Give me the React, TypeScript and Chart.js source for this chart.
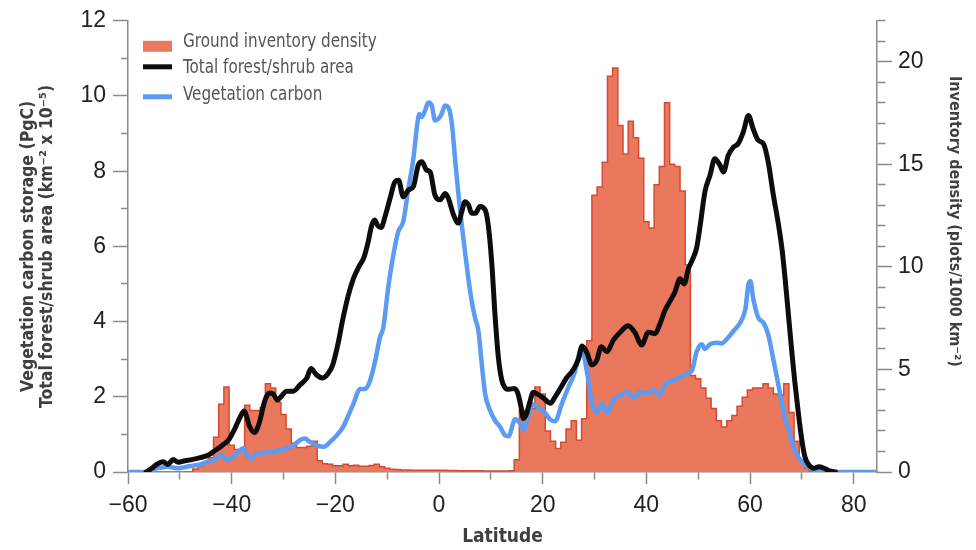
import React, { useEffect, useRef } from 'react';
import { Chart, registerables } from 'chart.js';

Chart.register(...registerables);

// ---- Ground inventory density (plots / 1000 km^2), 1-degree bins (bin centres) ----
const histLat = [
  -48, -47, -46, -45, -44, -43, -42, -41, -40, -39, -38, -37, -36, -35, -34, -33, -32, -31, -30, -29,
  -28, -27, -26, -25, -24, -23, -22, -21, -20, -19, -18, -17, -16, -15, -14, -13, -12, -11, -10, -9,
  -8, -7, -6, -5, -4, -3, -2, -1, 0, 1, 2, 3, 4, 5, 6, 7, 8, 9, 10, 11,
  12, 13, 14, 15, 16, 17, 18, 19, 20, 21, 22, 23, 24, 25, 26, 27, 28, 29, 30, 31,
  32, 33, 34, 35, 36, 37, 38, 39, 40, 41, 42, 43, 44, 45, 46, 47, 48, 49, 50, 51,
  52, 53, 54, 55, 56, 57, 58, 59, 60, 61, 62, 63, 64, 65, 66, 67, 68, 69, 70, 71, 72,
];
const histVal = [
  0, 0.15, 0.3, 0.45, 0.7, 1.7, 3.3, 4.15, 1.3, 1.1, 1.1, 3.25, 3.0, 3.0, 3.15, 4.3, 4.1, 3.4, 2.8, 2.1,
  1.4, 1.2, 1.2, 1.25, 1.5, 0.55, 0.4, 0.38, 0.3, 0.3, 0.38, 0.3, 0.33, 0.28, 0.28, 0.32, 0.38, 0.25, 0.18, 0.14,
  0.12, 0.1, 0.1, 0.09, 0.09, 0.08, 0.08, 0.08, 0.08, 0.08, 0.07, 0.07, 0.06, 0.06, 0.06, 0.06, 0.06, 0.05, 0.05, 0.05,
  0.05, 0.05, 0.06, 0.6, 3.0, 3.0, 3.1, 4.15, 3.8, 2.0, 1.5, 1.15, 1.45, 2.1, 2.5, 1.55, 2.6, 6.4, 13.5, 13.9,
  15.1, 19.3, 19.7, 16.9, 15.5, 17.1, 16.3, 15.3, 12.2, 11.9, 14.0, 14.9, 18.0, 15.0, 14.9, 13.7, 10.1, 4.7, 4.55, 4.1,
  3.6, 3.1, 2.5, 2.2, 2.5, 2.75, 3.2, 3.65, 4.0, 4.1, 4.1, 4.3, 4.1, 3.8, 3.75, 4.3, 2.9, 1.5, 0.6, 0.2, 0,
];

// ---- Total forest/shrub area (km^-2 x 10^-5) ----
const forestLat = [
  -56.5, -55.4, -54.5, -53.2, -52.3, -51.3, -50.3, -49, -47.7, -46.1, -44.5, -43.2, -41.9, -40.6, -39.4, -38.4,
  -37.6, -36.5, -35.6, -34.7, -33.6, -32.7, -32, -31.2, -30.3, -29.4, -28.1, -26.8, -25.5, -24.7, -23.6, -22.5,
  -21.5, -20.5, -19.5, -18.5, -17.5, -16.5, -15.5, -14.5, -13.7, -13, -12.4, -11.8, -11.2, -10.3, -9.4, -8.5,
  -7.8, -6.9, -5.9, -4.95, -4, -3.3, -2.4, -1.7, -0.8, 0.2, 1.2, 1.8, 2.8, 3.7, 4.4, 5, 5.7, 6.3, 7, 7.9, 8.9,
  9.5, 10.2, 10.8, 11.45, 12.1, 12.7, 13.5, 14.5, 15.2, 15.8, 16.3, 16.9, 17.5, 18.2, 19.2, 20.1, 21.5, 22.4,
  23.3, 24.6, 25.9, 26.9, 27.6, 28.5, 29.5, 30.4, 31.3, 32.4, 33.6, 34.9, 36.5, 37.8, 39.1, 40.4, 41.7, 42.6,
  43.6, 44.6, 45.5, 46.5, 47.3, 48.1, 48.8, 49.7, 50.4, 51.3, 52.3, 53.2, 54.2, 54.9, 55.8, 56.8, 57.7, 58.7,
  59.7, 60.6, 61.6, 62.6, 63.5, 64.5, 65.5, 66.2, 66.8, 67.4, 68, 68.6, 69.3, 70, 70.6, 71.3, 72.3, 73.3, 74.3,
  75.3, 76.5,
];
const forestVal = [
  0, 0.1, 0.2, 0.27, 0.2, 0.33, 0.26, 0.3, 0.33, 0.38, 0.45, 0.57, 0.7, 0.85, 1.15, 1.45,
  1.62, 1.2, 1.05, 1.3, 1.9, 2.1, 2.08, 1.92, 2.03, 2.15, 2.15, 2.32, 2.5, 2.75, 2.58, 2.5,
  2.6, 2.85, 3.4, 4.1, 4.7, 5.15, 5.45, 5.7, 6.1, 6.55, 6.7, 6.55, 6.5, 6.85, 7.3, 7.72,
  7.76, 7.32, 7.5, 7.59, 8.16, 8.25, 8.03, 7.98, 7.37, 7.24, 7.41, 7.28, 6.84, 6.62, 6.93, 7.19, 7.1, 6.88, 6.88, 7.06, 6.97,
  6.57, 5.52, 4.19, 3.05, 2.45, 2.25, 2.2, 2.22, 2.1, 1.75, 1.42, 1.55, 1.85, 2.12, 2.05, 1.97, 1.83, 2.0,
  2.2, 2.5, 2.72, 3.0, 3.35, 3.18, 2.85, 2.96, 3.33, 3.2, 3.5, 3.71, 3.89, 3.71, 3.38, 3.72, 3.68, 3.93,
  4.3, 4.55, 4.78, 5.14, 5.0, 5.4, 5.62, 5.96, 6.57, 7.45, 7.9, 8.33, 8.16, 7.98, 8.42, 8.64, 8.73, 9.04,
  9.48, 9.13, 8.82, 8.73, 8.25, 7.37, 6.57, 5.9, 5.1, 4.2, 3.3, 2.45, 1.6, 0.85, 0.4, 0.2, 0.1, 0.14, 0.1,
  0.03, 0,
];

// ---- Vegetation carbon storage (PgC) ----
const carbonLat = [
  -60, -57, -56, -55, -54.5, -53.5, -52.5, -51.5, -50.3, -48.7, -47.1, -46, -44.8, -43.8, -42.9, -41.9, -41,
  -39.7, -38.7, -37.8, -37.1, -36.1, -35.2, -34.2, -33.2, -32.2, -31.3, -30.3, -29.4, -28.1, -26.8, -25.9,
  -24.9, -23.6, -22.3, -21, -19.7, -18.5, -17.5, -16.5, -15.2, -14.3, -13.3, -12.3, -11.4, -10.75, -9.8, -8.8,
  -7.85, -6.9, -5.9, -4.95, -4.3, -3.8, -3.35, -2.7, -2.06, -1.4, -0.77, -0.13, 0.5, 1.16, 1.8, 2.45, 3.1,
  3.7, 4.4, 5.0, 5.65, 6.3, 6.95, 7.6, 8.25, 8.9, 9.85, 10.8, 11.8, 12.7, 13.4, 14.7, 15.6, 16.4, 17.2, 18.2,
  19.3, 20.3, 21.4, 22.4, 23.7, 24.8, 26.2, 27.5, 28.5, 29.5, 30.5, 31.4, 32.5, 33.6, 34.8, 36.4, 37.6, 38.8,
  40.2, 41.4, 42.5, 43.9, 45.2, 46.5, 47.8, 48.8, 49.7, 50.7, 51.3, 52.3, 53.6, 54.5, 55.5, 56.8, 58.1, 59.1,
  59.7, 60.1, 60.6, 61.6, 62.6, 63.5, 64.5, 65.5, 66.4, 67.4, 68.4, 69.3, 70.3, 71.6, 73, 75, 78, 84.5,
];
const carbonVal = [
  0, 0, 0.02, 0.06, 0.1, 0.12, 0.14, 0.12, 0.1, 0.14, 0.18, 0.2, 0.27, 0.3, 0.36, 0.45, 0.32,
  0.4, 0.54, 0.63, 0.45, 0.36, 0.49, 0.5, 0.54, 0.52, 0.58, 0.58, 0.63, 0.71, 0.85, 0.89,
  0.8, 0.71, 0.67, 0.8, 0.98, 1.2, 1.5, 1.82, 2.21, 2.21, 2.43, 2.96, 3.58, 3.84, 4.9, 5.78,
  6.4, 6.66, 7.54, 8.33, 9.13, 9.52, 9.44, 9.61, 9.83, 9.75, 9.35, 9.39, 9.52, 9.75, 9.7, 9.3, 8.33,
  7.45, 6.57, 5.87, 5.16, 4.55, 4.1, 3.75, 2.87, 2.08, 1.64, 1.37, 1.2, 0.98, 0.95, 1.4, 1.3, 1.12, 1.5, 1.8,
  1.68, 1.6, 1.4, 1.35, 1.82, 2.2, 2.65, 3.3, 2.7, 1.85, 1.58, 1.82, 1.57, 1.9, 2.03, 2.12, 1.98, 2.12,
  2.1, 2.18, 2.05, 2.37, 2.43, 2.52, 2.62, 2.7, 3.2, 3.4, 3.27, 3.4, 3.44, 3.42, 3.53, 3.75, 3.97, 4.33,
  4.99, 5.07, 4.63, 4.1, 3.97, 3.66, 3.0, 2.3, 1.64, 1.15, 0.67, 0.4, 0.23, 0.1, 0.04, 0.02, 0, 0,
];

const seriesLabels = ['Ground inventory density', 'Total forest/shrub area', 'Vegetation carbon'];

const AXIS = '#8a8a8a';
const TICK_TEXT = '#222222';
const TITLE_TEXT = '#3f3f3f';
const HIST_FILL = '#E9785C';
const HIST_EDGE = '#D64A34';
const FOREST = '#0d0d0d';
const CARBON = '#5B9BF4';
const NARROW = '"DejaVu Sans Condensed", "Liberation Sans Narrow", "Open Sans", sans-serif';
const SANS = '"Liberation Sans", Arial, Helvetica, sans-serif';

const toPoints = (xs: number[], ys: number[]) => xs.map((x, i) => ({ x, y: ys[i] }));

const insideLegend = {
  id: 'insideLegend',
  afterDraw(chart: any) {
    const { ctx, chartArea } = chart;
    const ds = chart.data.datasets;
    const x0 = chartArea.left + 15;
    const top = chartArea.top;
    ctx.save();
    ctx.fillStyle = ds[0].backgroundColor;
    ctx.fillRect(x0, top + 20, 29, 11);
    ctx.lineCap = 'butt';
    ctx.lineWidth = 5;
    ctx.strokeStyle = ds[1].borderColor;
    ctx.beginPath();
    ctx.moveTo(x0, top + 46);
    ctx.lineTo(x0 + 29, top + 46);
    ctx.stroke();
    ctx.strokeStyle = ds[2].borderColor;
    ctx.beginPath();
    ctx.moveTo(x0, top + 76);
    ctx.lineTo(x0 + 29, top + 76);
    ctx.stroke();
    ctx.fillStyle = '#555555';
    ctx.font = '19px ' + NARROW;
    ctx.textAlign = 'left';
    ctx.textBaseline = 'middle';
    const ys = [top + 21.5, top + 47, top + 74];
    const tx = x0 + 40;
    ds.forEach((d: any, i: number) => {
      ctx.save();
      ctx.translate(tx, ys[i]);
      ctx.scale(0.89, 1);
      ctx.fillText(d.label, 0, 0);
      ctx.restore();
    });
    ctx.restore();
  },
};

export default function App() {
  const canvasRef = useRef<HTMLCanvasElement | null>(null);

  useEffect(() => {
    const canvas = canvasRef.current;
    if (!canvas) return;
    const chart = new Chart(canvas, {
      type: 'line',
      data: {
        datasets: [
          {
            label: seriesLabels[0],
            data: toPoints(histLat, histVal),
            yAxisID: 'y2',
            stepped: 'middle',
            fill: 'origin',
            backgroundColor: HIST_FILL,
            borderColor: HIST_EDGE,
            borderWidth: 1.5,
            pointRadius: 0,
            order: 3,
          },
          {
            label: seriesLabels[1],
            data: toPoints(forestLat, forestVal),
            yAxisID: 'y',
            borderColor: FOREST,
            backgroundColor: FOREST,
            borderWidth: 5,
            pointRadius: 0,
            fill: false,
            cubicInterpolationMode: 'monotone',
            borderCapStyle: 'round',
            borderJoinStyle: 'round',
            order: 1,
          },
          {
            label: seriesLabels[2],
            data: toPoints(carbonLat, carbonVal),
            yAxisID: 'y',
            borderColor: CARBON,
            backgroundColor: CARBON,
            borderWidth: 4.5,
            pointRadius: 0,
            fill: false,
            cubicInterpolationMode: 'monotone',
            borderCapStyle: 'round',
            borderJoinStyle: 'round',
            order: 2,
          },
        ],
      },
      options: {
        responsive: false,
        maintainAspectRatio: false,
        animation: false,
        events: [],
        layout: { padding: { top: 18, left: 0, right: 0, bottom: 0 } },
        plugins: {
          legend: { display: false },
          tooltip: { enabled: false },
          title: { display: false },
        },
        scales: {
          x: {
            type: 'linear',
            position: 'bottom',
            min: -60,
            max: 84.5,
            border: { display: true, color: AXIS, width: 1.5 },
            grid: {
              display: true,
              drawOnChartArea: false,
              drawTicks: true,
              tickLength: 12,
              tickColor: AXIS,
              tickWidth: 1.5,
              tickBorderDash: (c: any) => (c.tick && Math.abs(c.tick.value) % 20 !== 0 ? [7, 100] : []),
            },
            ticks: {
              stepSize: 10,
              includeBounds: false,
              autoSkip: false,
              maxRotation: 0,
              padding: 8,
              color: TICK_TEXT,
              font: { family: SANS, size: 23 },
              callback: (v: any) => (Math.abs(v) % 20 === 0 ? String(v).replace('-', '\u2212') : ''),
            },
            title: {
              display: true,
              text: 'Latitude',
              color: TITLE_TEXT,
              font: { family: NARROW, size: 19, weight: 'bold', lineHeight: 1.2 },
              padding: { top: 0, bottom: 2 },
            },
            afterFit: (s: any) => {
              s.height = 78;
            },
          },
          y: {
            type: 'linear',
            position: 'left',
            min: 0,
            max: 12,
            border: { display: true, color: AXIS, width: 1.5 },
            grid: {
              display: true,
              drawOnChartArea: false,
              drawTicks: true,
              tickLength: 15,
              tickColor: AXIS,
              tickWidth: 1.5,
              tickBorderDash: (c: any) => (c.tick && c.tick.value % 2 !== 0 ? [0, 8, 7, 0] : []),
            },
            ticks: {
              stepSize: 1,
              autoSkip: false,
              padding: 7,
              color: TICK_TEXT,
              font: { family: SANS, size: 23 },
              callback: (v: any) => (v % 2 === 0 ? String(v) : ''),
            },
            title: {
              display: true,
              text: ['Vegetation carbon storage (PgC)', 'Total forest/shrub area (km\u207B\u00B2 x 10\u207B\u2075)'],
              color: TITLE_TEXT,
              font: { family: NARROW, size: 17.5, weight: 'bold', lineHeight: 1.114 },
              padding: { top: 18.5, bottom: 0 },
            },
            afterFit: (s: any) => {
              s.width = 128;
            },
          },
          y2: {
            type: 'linear',
            position: 'right',
            min: 0,
            max: 22,
            border: { display: true, color: AXIS, width: 1.5 },
            grid: {
              display: true,
              drawOnChartArea: false,
              drawTicks: true,
              tickLength: 15,
              tickColor: AXIS,
              tickWidth: 1.5,
              tickBorderDash: (c: any) => (c.tick && c.tick.value % 5 !== 0 ? [8, 100] : []),
            },
            ticks: {
              stepSize: 1,
              autoSkip: false,
              padding: 6,
              color: TICK_TEXT,
              font: { family: SANS, size: 23 },
              callback: (v: any) => (v % 5 === 0 ? String(v) : ''),
            },
            title: {
              display: true,
              text: 'Inventory density (plots/1000 km\u207B\u00B2)' + ' '.repeat(10),
              color: TITLE_TEXT,
              font: { family: NARROW, size: 16, weight: 'bold', lineHeight: 1.2 },
              padding: { top: 12.5, bottom: 0 },
            },
            afterFit: (s: any) => {
              s.width = 99;
            },
          },
        },
      },
      plugins: [insideLegend],
    });
    return () => chart.destroy();
  }, []);

  return (
    <div style={{ position: 'absolute', left: 0, top: 0, width: 976, height: 550, background: '#ffffff' }}>
      <canvas ref={canvasRef} width={976} height={550} style={{ display: 'block', width: 976, height: 550 }} />
    </div>
  );
}
